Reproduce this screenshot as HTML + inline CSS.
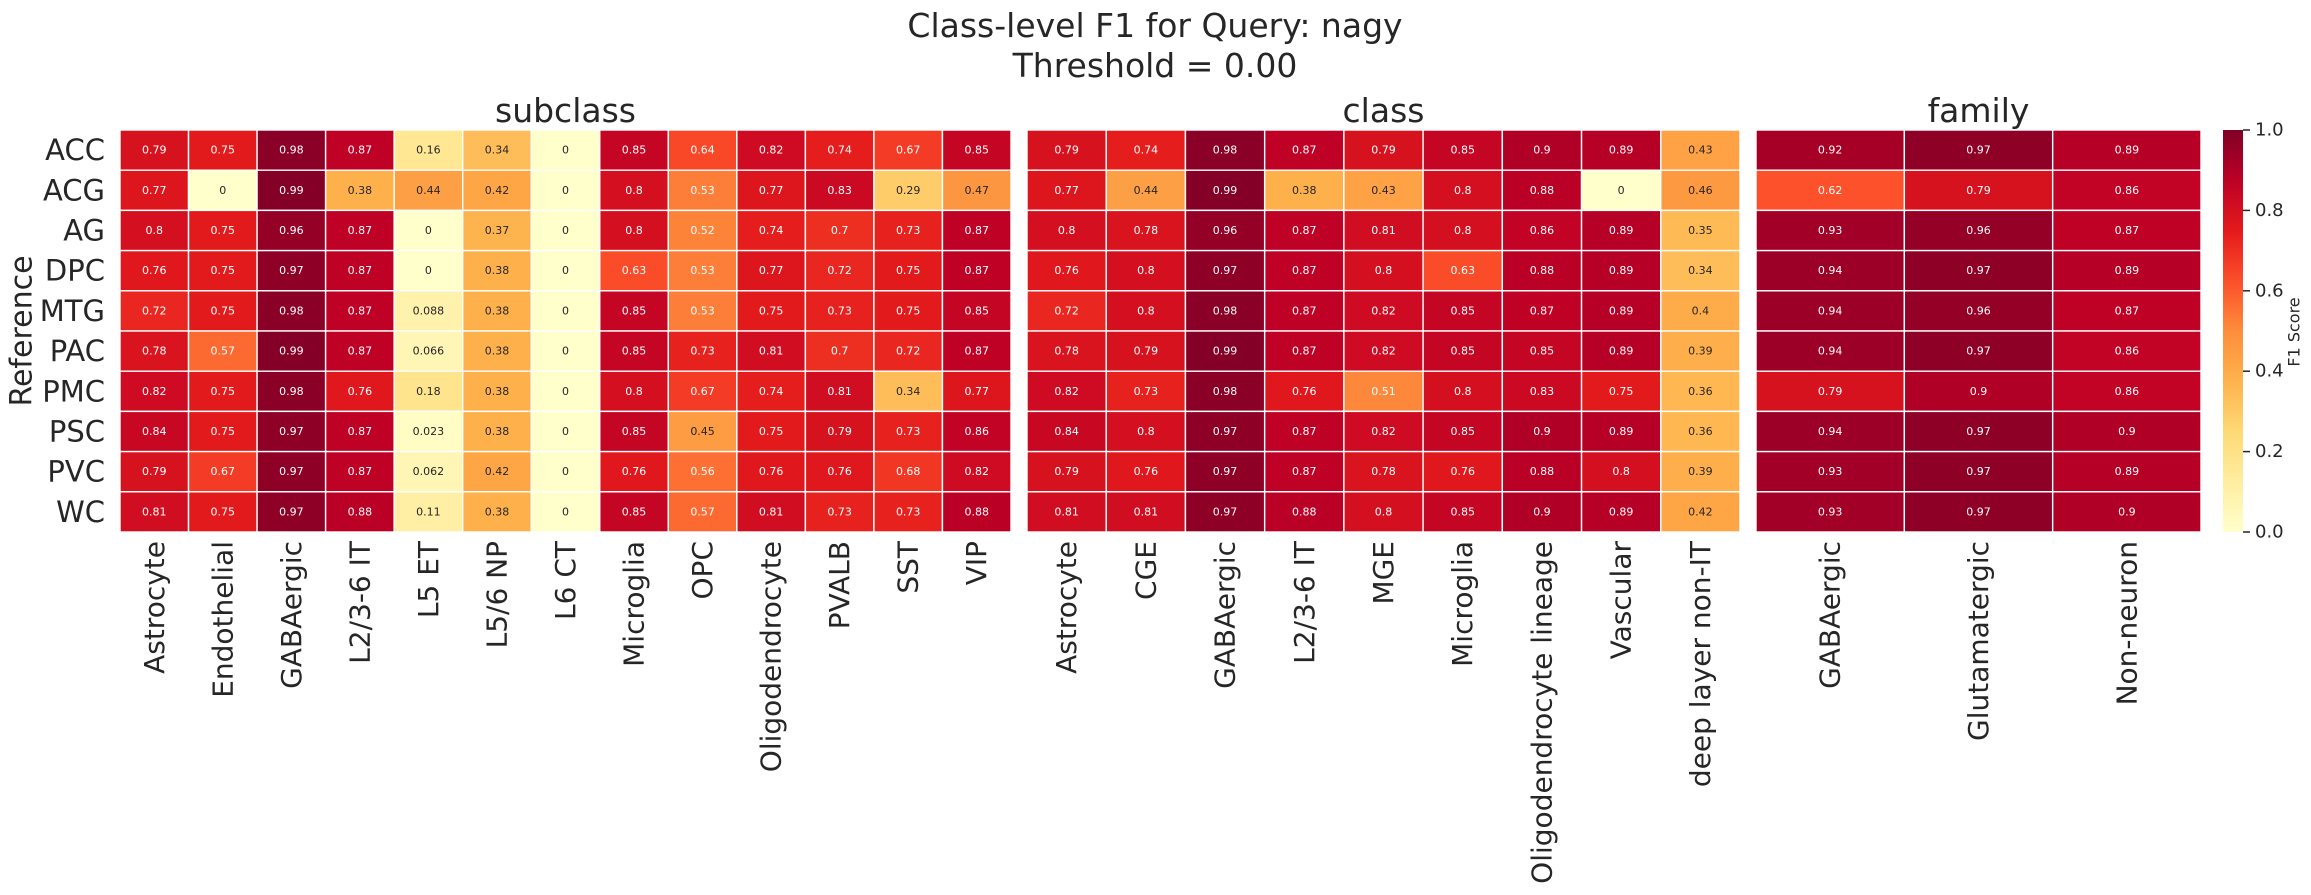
<!DOCTYPE html>
<html><head><meta charset="utf-8"><style>
html,body{margin:0;padding:0;background:#fff;}
svg{display:block;font-family:"DejaVu Sans","Liberation Sans",sans-serif;}
</style></head><body>
<svg id="chart" width="2311" height="895" viewBox="0 0 2311 895" xmlns="http://www.w3.org/2000/svg">
<text x="1155" y="37" font-size="33" text-anchor="middle" fill="#262626">Class-level F1 for Query: nagy</text>
<text x="1155" y="77" font-size="33" text-anchor="middle" fill="#262626">Threshold = 0.00</text>
<text transform="translate(22,331) rotate(-90)" font-size="30" text-anchor="middle" dominant-baseline="central" fill="#262626">Reference</text>
</svg>
<script>
const rows = ["ACC","ACG","AG","DPC","MTG","PAC","PMC","PSC","PVC","WC"];
const subclassCats = ["Astrocyte","Endothelial","GABAergic","L2/3-6 IT","L5 ET","L5/6 NP","L6 CT","Microglia","OPC","Oligodendrocyte","PVALB","SST","VIP"];
const subclassVals = [
[0.79,0.75,0.98,0.87,0.16,0.34,0,0.85,0.64,0.82,0.74,0.67,0.85],
[0.77,0,0.99,0.38,0.44,0.42,0,0.8,0.53,0.77,0.83,0.29,0.47],
[0.8,0.75,0.96,0.87,0,0.37,0,0.8,0.52,0.74,0.7,0.73,0.87],
[0.76,0.75,0.97,0.87,0,0.38,0,0.63,0.53,0.77,0.72,0.75,0.87],
[0.72,0.75,0.98,0.87,0.088,0.38,0,0.85,0.53,0.75,0.73,0.75,0.85],
[0.78,0.57,0.99,0.87,0.066,0.38,0,0.85,0.73,0.81,0.7,0.72,0.87],
[0.82,0.75,0.98,0.76,0.18,0.38,0,0.8,0.67,0.74,0.81,0.34,0.77],
[0.84,0.75,0.97,0.87,0.023,0.38,0,0.85,0.45,0.75,0.79,0.73,0.86],
[0.79,0.67,0.97,0.87,0.062,0.42,0,0.76,0.56,0.76,0.76,0.68,0.82],
[0.81,0.75,0.97,0.88,0.11,0.38,0,0.85,0.57,0.81,0.73,0.73,0.88]];
const classCats = ["Astrocyte","CGE","GABAergic","L2/3-6 IT","MGE","Microglia","Oligodendrocyte lineage","Vascular","deep layer non-IT"];
const classVals = [
[0.79,0.74,0.98,0.87,0.79,0.85,0.9,0.89,0.43],
[0.77,0.44,0.99,0.38,0.43,0.8,0.88,0,0.46],
[0.8,0.78,0.96,0.87,0.81,0.8,0.86,0.89,0.35],
[0.76,0.8,0.97,0.87,0.8,0.63,0.88,0.89,0.34],
[0.72,0.8,0.98,0.87,0.82,0.85,0.87,0.89,0.4],
[0.78,0.79,0.99,0.87,0.82,0.85,0.85,0.89,0.39],
[0.82,0.73,0.98,0.76,0.51,0.8,0.83,0.75,0.36],
[0.84,0.8,0.97,0.87,0.82,0.85,0.9,0.89,0.36],
[0.79,0.76,0.97,0.87,0.78,0.76,0.88,0.8,0.39],
[0.81,0.81,0.97,0.88,0.8,0.85,0.9,0.89,0.42]];
const familyCats = ["GABAergic","Glutamatergic","Non-neuron"];
const familyVals = [
[0.92,0.97,0.89],[0.62,0.79,0.86],[0.93,0.96,0.87],[0.94,0.97,0.89],[0.94,0.96,0.87],
[0.94,0.97,0.86],[0.79,0.9,0.86],[0.94,0.97,0.9],[0.93,0.97,0.89],[0.93,0.97,0.9]];
const cbTicks = ["0.0","0.2","0.4","0.6","0.8","1.0"];

const NS="http://www.w3.org/2000/svg";
const svg=document.getElementById('chart');
const stops=["#ffffcc","#ffeda0","#fed976","#feb24c","#fd8d3c","#fc4e2a","#e31a1c","#bd0026","#800026"].map(h=>[parseInt(h.slice(1,3),16),parseInt(h.slice(3,5),16),parseInt(h.slice(5,7),16)]);
function cmapRGB(v){v=Math.max(0,Math.min(1,v));const p=v*(stops.length-1);const i=Math.min(Math.floor(p),stops.length-2);const t=p-i;
return stops[i].map((c,k)=>Math.round(c+(stops[i+1][k]-c)*t));}
function lum(rgb){const l=rgb.map(c=>{c/=255;return c<=0.03928?c/12.92:Math.pow((c+0.055)/1.055,2.4)});return 0.2126*l[0]+0.7152*l[1]+0.0722*l[2];}
function mk(tag,attrs,parent){const e=document.createElementNS(NS,tag);for(const k in attrs)e.setAttribute(k,attrs[k]);(parent||svg).appendChild(e);return e;}

const yTop=130,yBottom=532;
const rowH=(yBottom-yTop)/rows.length;
function yScale(i){return yTop+i*rowH;}

rows.forEach((r,i)=>{
  const t=mk('text',{x:105,y:yScale(i)+rowH/2,'font-size':29,'text-anchor':'end','dominant-baseline':'central',fill:'#262626'});
  
  
  t.textContent=r;
});

function panel(name,cats,vals,x0,x1){
  const g=mk('g',{});
  
  
  const cw=(x1-x0)/cats.length;
  const xScale=j=>x0+j*cw;
  vals.forEach((row,i)=>row.forEach((v,j)=>{
    const rgb=cmapRGB(v);
    const rc=mk('rect',{x:xScale(j),y:yScale(i),width:cw,height:rowH,fill:`rgb(${rgb})`,stroke:'#fff','stroke-width':1.4},g);
    
    
    const tx=mk('text',{x:xScale(j)+cw/2,y:yScale(i)+rowH/2,'font-size':11,'text-anchor':'middle','dominant-baseline':'central',fill:lum(rgb)>0.408?'#262626':'#fff'},g);
    
    
    tx.textContent=String(v);
  }));
  cats.forEach((c,j)=>{
    const cx=xScale(j)+cw/2;
    const t=mk('text',{transform:`translate(${cx},541) rotate(-90)`,'font-size':28,'text-anchor':'end','dominant-baseline':'central',fill:'#262626'});
    
    
    t.textContent=c;
  });
  const tt=mk('text',{x:(x0+x1)/2,y:122,'font-size':33,'text-anchor':'middle',fill:'#262626'});
  
  
  tt.textContent=name;
}
panel('subclass',subclassCats,subclassVals,120,1011);
panel('class',classCats,classVals,1027,1740);
panel('family',familyCats,familyVals,1756,2201);

// colorbar
const defs=mk('defs',{});
const grad=mk('linearGradient',{id:'cbg',x1:0,y1:1,x2:0,y2:0},defs);
for(let k=0;k<=20;k++){mk('stop',{offset:k/20,'stop-color':`rgb(${cmapRGB(k/20)})`},grad);}
const cb=mk('rect',{x:2223,y:yTop,width:20,height:yBottom-yTop,fill:'url(#cbg)'});


const cbY=v=>yBottom-v*(yBottom-yTop);
cbTicks.forEach(s=>{
  const v=parseFloat(s);
  const ln=mk('line',{x1:2243,x2:2250,y1:cbY(v),y2:cbY(v),stroke:'#262626','stroke-width':1.5});
  
  
  const t=mk('text',{x:2255,y:cbY(v),'font-size':18,'dominant-baseline':'central',fill:'#262626'});
  
  
  t.textContent=s;
});
const cbl=mk('text',{transform:'translate(2294,332) rotate(-90)','font-size':16,'text-anchor':'middle','dominant-baseline':'central',fill:'#262626'});


cbl.textContent='F1 Score';
</script>
</body></html>
